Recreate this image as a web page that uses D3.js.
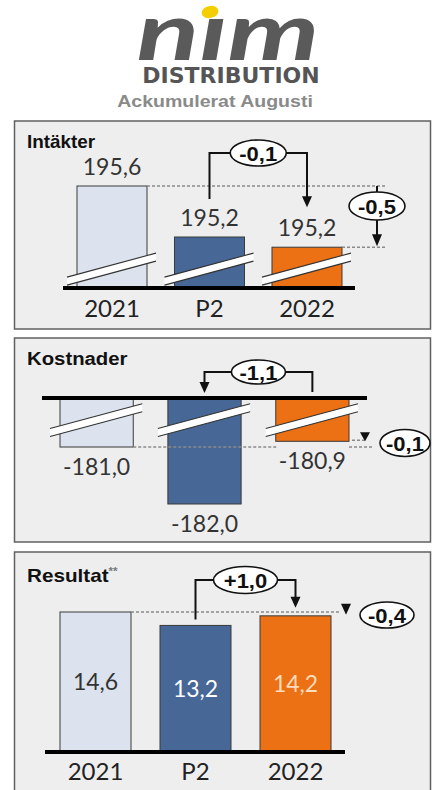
<!DOCTYPE html>
<html><head><meta charset="utf-8">
<script src="https://cdn.jsdelivr.net/npm/d3@7"></script>
<style>html,body{margin:0;padding:0;background:#fff;}svg{display:block;}</style>
</head><body>
<svg id="c" width="432" height="790"></svg>
<script>
// ---- data ----
const categories = ["2021", "P2", "2022"];
const intakter = [195.64, 195.24, 195.16];
const kostnader = [-181.0, -182.0, -180.9];
const resultat = [14.6, 13.2, 14.2];
const panelTitles = ["Intäkter", "Kostnader", "Resultat"];
const bracketLabels = ["-0,1", "-1,1", "+1,0"];
const deltaLabels = ["-0,5", "-0,1", "-0,4"];
const headerTexts = ["DISTRIBUTION", "Ackumulerat Augusti"];

const barColors = ["#dce3ee", "#476796", "#ec7014"];
const insideLabelColors = ["#333333", "#ffffff", "#fddcbc"];
const fmt = v => v.toFixed(1).replace(".", ",");

const svg = d3.select("#c");
const ARIAL = "'Liberation Sans', Arial, sans-serif";
const NUM = "Lato, 'Open Sans', sans-serif";

function stext(g, x, y, txt, o) {
  const t = g.append("text")
    .attr("transform", `translate(${x},${y}) scale(${o.sx || 1},1)`)
    .attr("text-anchor", o.anchor || "start")
    .attr("font-family", o.family || ARIAL)
    .attr("font-size", o.size)
    .attr("font-weight", o.weight || "normal")
    .attr("font-style", o.style || "normal")
    .attr("fill", o.fill || "#222")
    .text(txt);
  return t;
}

// ---- header / logo ----
stext(svg, 228, 60, "nım", {anchor: "middle", family: NUM, size: 80, weight: "bold", style: "italic", fill: "#5a5a5a", sx: 1.45});
svg.append("ellipse").attr("cx", 210).attr("cy", 12).attr("rx", 8.5).attr("ry", 6)
  .attr("transform", "rotate(-12,210,12)").attr("fill", "#f4cf00");
stext(svg, 231, 83, headerTexts[0], {anchor: "middle", family: "'DejaVu Sans', sans-serif", size: 22, weight: "bold", fill: "#555555"});
stext(svg, 215, 107, headerTexts[1], {anchor: "middle", size: 17, weight: "bold", fill: "#8a8a8a", sx: 1.15});

// ---- panels ----
const panels = [
  { values: intakter, top: 121, bottom: 329, titleY: 148, titleSx: 1.05,
    xRange: [77, 342], pad: 0.282, yDomain: [194.84, 195.64], yRange: [288, 186],
    axis: [63, 355], labels: "above", catY: 317, brk: -19,
    bracket: {from: 1, to: 2, start: -38, topY: 153, end: -40, rx: 28, ry: 13},
    delta: {type: "long", x: 377, ex: 377, ey: 206, rx: 28, ry: 14, dashTo: 385} },
  { values: kostnader, top: 338, bottom: 542, titleY: 365, titleSx: 1.13,
    xRange: [60, 349], pad: 0.321, yDomain: [-180.14, -182.0], yRange: [398, 504],
    axis: [42, 367], labels: "below", catY: null, brk: 22,
    bracket: {from: 2, to: 1, start: null, topY: 372, end: null, rx: 27, ry: 12},
    delta: {type: "tri", x: 365, ex: 405, ey: 443, rx: 25, ry: 13.5, dashTo: 373} },
  { values: resultat, top: 552, bottom: 800, titleY: 582, titleSx: 1.15,
    xRange: [60, 331], pad: 0.29, yDomain: [0, 14.6], yRange: [752, 612],
    axis: [45, 345], labels: "inside", catY: 780, brk: null,
    bracket: {from: 1, to: 2, start: -6, topY: 580, end: -8, rx: 32, ry: 13.5},
    delta: {type: "tri3", x: 346, ex: 387, ey: 615, rx: 27, ry: 13, dashTo: 341} }
];

function arrowDown(g, x, tipY, w, h) {
  g.append("path").attr("d", `M${x - w / 2},${tipY - h} L${x + w / 2},${tipY - h} L${x},${tipY} Z`).attr("fill", "#111");
}
function bubble(g, cx, cy, rx, ry, txt) {
  g.append("ellipse").attr("cx", cx).attr("cy", cy).attr("rx", rx).attr("ry", ry)
    .attr("fill", "#fff").attr("stroke", "#111").attr("stroke-width", 1.6);
  stext(g, cx, cy + 7.5, txt, {anchor: "middle", size: 20, weight: "bold", fill: "#111", sx: 1.1});
}

panels.forEach((p, pi) => {
  const g = svg.append("g");
  g.append("rect").attr("x", 14.5).attr("y", p.top).attr("width", 416).attr("height", p.bottom - p.top)
    .attr("fill", "#eeeeee").attr("stroke", "#606060").attr("stroke-width", 1.5);
  const title = stext(g, 27, p.titleY, panelTitles[pi], {size: 18, weight: "bold", fill: "#111", sx: p.titleSx});
  if (pi === 2) title.append("tspan").attr("font-size", 10).attr("dy", -7).attr("fill", "#777").text("**");

  const x = d3.scaleBand().domain(categories).range(p.xRange).paddingInner(p.pad).paddingOuter(0);
  const y = d3.scaleLinear().domain(p.yDomain).range(p.yRange);
  const base = p.yRange[0];
  const data = categories.map((c, i) => ({c, i, v: p.values[i]}));
  const bw = x.bandwidth();

  // bars
  g.selectAll("rect.bar").data(data).join("rect").attr("class", "bar")
    .attr("x", d => x(d.c)).attr("width", bw)
    .attr("y", d => Math.min(y(d.v), base)).attr("height", d => Math.abs(y(d.v) - base))
    .attr("fill", d => barColors[d.i]).attr("stroke", "#3a3a3a").attr("stroke-width", 1);

  // break marks
  if (p.brk !== null) {
    const s = -0.27, th = 4;
    data.forEach(d => {
      const L = x(d.c) - 10, R = x(d.c) + bw + 9, cx = x(d.c) + bw / 2, cy = base + p.brk;
      const yc = xx => cy + s * (xx - cx);
      g.append("path").attr("d", `M${L},${yc(L) - th} L${R},${yc(R) - th} L${R},${yc(R) + th} L${L},${yc(L) + th} Z`).attr("fill", "#fff");
      [-th, th].forEach(o => g.append("line").attr("x1", L).attr("y1", yc(L) + o).attr("x2", R).attr("y2", yc(R) + o)
        .attr("stroke", "#333").attr("stroke-width", 1.1));
    });
  }

  // axis line
  g.append("line").attr("x1", p.axis[0]).attr("x2", p.axis[1]).attr("y1", base).attr("y2", base)
    .attr("stroke", "#000").attr("stroke-width", 4);

  // value labels
  data.forEach(d => {
    const cx = x(d.c) + bw / 2;
    if (p.labels === "above") stext(g, cx, y(d.v) - 11, fmt(d.v), {anchor: "middle", family: NUM, size: 23, fill: "#333"});
    else if (p.labels === "below") stext(g, cx, y(d.v) + 28, fmt(d.v), {anchor: "middle", family: NUM, size: 23, fill: "#333"});
    else stext(g, cx, (y(d.v) + base) / 2 + 8, fmt(d.v), {anchor: "middle", family: NUM, size: 23, fill: insideLabelColors[d.i]});
  });
  // category labels
  if (p.catY !== null) {
    g.selectAll("text.cat").data(categories).join("text").attr("class", "cat")
      .attr("x", c => x(c) + bw / 2).attr("y", p.catY).attr("text-anchor", "middle")
      .attr("font-family", NUM).attr("font-size", 24).attr("fill", "#222").text(c => c);
  }

  // dashed reference lines + delta markers
  const dash = (x1, x2, yy) => g.append("line").attr("x1", x1).attr("x2", x2).attr("y1", yy).attr("y2", yy)
    .attr("stroke", "#8a8a8a").attr("stroke-width", 1.6).attr("stroke-dasharray", "3,2");
  const dl = p.delta;
  const y0 = y(p.values[0]), y2 = y(p.values[2]);
  const r0 = x(categories[0]) + bw, r2 = x(categories[2]) + bw;
  if (dl.type === "long") {
    dash(r0, dl.dashTo, y0);
    dash(r2, dl.dashTo, y2);
    g.append("line").attr("x1", dl.x).attr("x2", dl.x).attr("y1", y0).attr("y2", y2 - 8).attr("stroke", "#111").attr("stroke-width", 2);
    arrowDown(g, dl.x, y2 - 1, 10, 12);
    bubble(g, dl.ex, dl.ey, dl.rx, dl.ry, deltaLabels[pi]);
  } else if (dl.type === "tri") {
    dash(r0, x(categories[2]) + 2, y0);
    dash(r2, dl.dashTo, y0);
    dash(r2 + 3, dl.dashTo - 8, y2 - 1);
    arrowDown(g, dl.x, y2, 10, 9);
    bubble(g, dl.ex, dl.ey, dl.rx, dl.ry, deltaLabels[pi]);
  } else {
    dash(r0, dl.dashTo, y0);
    arrowDown(g, dl.x, y2 - 1, 10, 11);
    bubble(g, dl.ex, dl.ey, dl.rx, dl.ry, deltaLabels[pi]);
  }

  // bracket arrow between categories
  const b = p.bracket;
  const xf = x(categories[b.from]) + bw / 2, xt = x(categories[b.to]) + bw / 2;
  const sY = b.start === null ? base - 6 : y(p.values[b.from]) + b.start;
  const eY = b.end === null ? base - 5 : y(p.values[b.to]) + b.end;
  g.append("path").attr("d", `M${xf},${sY} L${xf},${b.topY} L${xt},${b.topY} L${xt},${eY - 9}`)
    .attr("fill", "none").attr("stroke", "#111").attr("stroke-width", 2);
  arrowDown(g, xt, eY, 10, 11);
  bubble(g, (xf + xt) / 2, b.topY, b.rx, b.ry, bracketLabels[pi]);
});
</script>
</body></html>
